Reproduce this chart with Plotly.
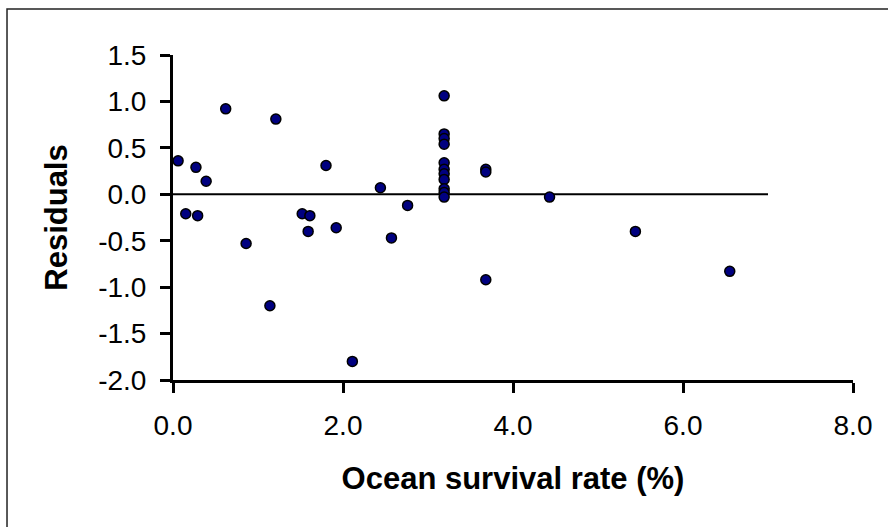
import plotly.graph_objects as go

survival = [0.06, 0.15, 0.27, 0.29, 0.39, 0.62, 0.86, 1.14, 1.21, 1.52, 1.59, 1.61,
            1.80, 1.92, 2.11, 2.44, 2.57, 2.76,
            3.19, 3.19, 3.19, 3.19, 3.19, 3.19, 3.19, 3.19, 3.19, 3.19, 3.19,
            3.68, 3.68, 3.68, 4.43, 5.44, 6.55]
residuals = [0.36, -0.21, 0.29, -0.23, 0.14, 0.92, -0.53, -1.20, 0.81, -0.21, -0.40, -0.23,
             0.31, -0.36, -1.80, 0.07, -0.47, -0.12,
             1.06, 0.65, 0.60, 0.54, 0.34, 0.27, 0.22, 0.16, 0.06, 0.02, -0.03,
             0.27, 0.24, -0.92, -0.03, -0.40, -0.83]
zero_x = [0, 7]
zero_y = [0, 0]

x_ticks = [0, 2, 4, 6, 8]
x_labels = ["0.0", "2.0", "4.0", "6.0", "8.0"]
y_ticks = [-2.0, -1.5, -1.0, -0.5, 0.0, 0.5, 1.0, 1.5]
y_labels = ["-2.0", "-1.5", "-1.0", "-0.5", "0.0", "0.5", "1.0", "1.5"]

FONT = "Arial, Liberation Sans, sans-serif"

fig = go.Figure()
fig.add_trace(go.Scatter(x=zero_x, y=zero_y, mode="lines",
                         line=dict(color="black", width=2), hoverinfo="skip"))
fig.add_trace(go.Scatter(x=survival, y=residuals, mode="markers",
                         marker=dict(size=10, color="#000080",
                                     line=dict(color="black", width=1.5))))

fig.update_layout(
    width=888, height=527,
    margin=dict(l=173, r=35, t=55, b=147),
    paper_bgcolor="white", plot_bgcolor="white",
    showlegend=False,
    font=dict(family=FONT, color="black"),
    xaxis=dict(range=[0, 8], tickvals=x_ticks, ticktext=x_labels,
               showgrid=False, zeroline=False, showline=True, linecolor="black",
               linewidth=3, ticks="outside", ticklen=10, tickwidth=3, tickcolor="black",
               tickfont=dict(size=28, family=FONT), ticklabelstandoff=8,
               title=dict(text="<b>Ocean survival rate (%)</b>",
                          font=dict(size=31, family=FONT), standoff=28)),
    yaxis=dict(range=[-2, 1.5], tickvals=y_ticks, ticktext=y_labels,
               showgrid=False, zeroline=False, showline=True, linecolor="black",
               linewidth=3, ticks="outside", ticklen=10, tickwidth=3, tickcolor="black",
               tickfont=dict(size=28, family=FONT), ticklabelstandoff=8,
               title=dict(text="<b>Residuals</b>",
                          font=dict(size=31, family=FONT), standoff=22)),
    shapes=[dict(type="rect", xref="paper", yref="paper",
                 x0=-0.2441, x1=1.12, y0=-0.48, y1=1.1415,
                 line=dict(color="#222222", width=1.5), layer="below")],
)

fig.write_html("out.html")
